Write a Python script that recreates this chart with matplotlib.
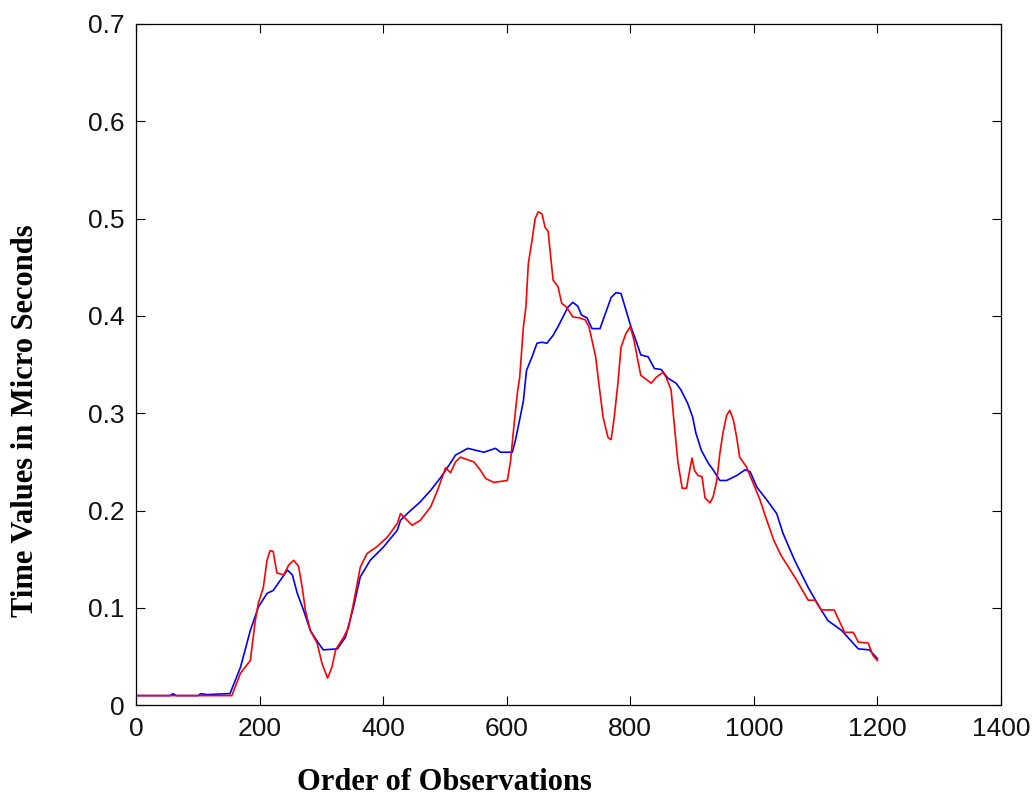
import matplotlib
matplotlib.use("Agg")
import matplotlib.pyplot as plt

# Observation order (x) and timing values (y) for the two traces
red_x = [0, 155, 169, 185, 193, 198, 206, 212, 217, 222, 228, 239, 247, 255, 263,
         269, 274, 282, 293, 301, 310, 317, 323, 336, 344, 352, 363, 374, 390, 407,
         423, 428, 447, 460, 477, 488, 501, 509, 517, 525, 547, 558, 566, 579, 601,
         606, 611, 617, 621, 627, 631, 635, 641, 646, 651, 657, 662, 667, 670, 675,
         683, 689, 697, 707, 718, 727, 733, 738, 744, 749, 756, 764, 769, 774, 780,
         785, 793, 800, 806, 812, 817, 834, 842, 853, 858, 866, 871, 877, 884, 891,
         896, 900, 904, 910, 916, 921, 929, 934, 940, 945, 950, 956, 961, 967, 972,
         977, 988, 999, 1010, 1021, 1032, 1044, 1066, 1088, 1099, 1109, 1130, 1138,
         1147, 1161, 1169, 1185, 1193, 1200]
red_y = [0.010, 0.010, 0.033, 0.046, 0.087, 0.105, 0.121, 0.149, 0.159, 0.158, 0.136,
         0.134, 0.144, 0.149, 0.143, 0.121, 0.098, 0.077, 0.064, 0.043, 0.028, 0.039,
         0.057, 0.070, 0.080, 0.105, 0.142, 0.156, 0.163, 0.173, 0.187, 0.197, 0.185,
         0.190, 0.204, 0.221, 0.244, 0.239, 0.250, 0.255, 0.250, 0.241, 0.233, 0.229,
         0.231, 0.250, 0.283, 0.320, 0.337, 0.389, 0.409, 0.454, 0.478, 0.500, 0.507,
         0.505, 0.491, 0.487, 0.468, 0.437, 0.430, 0.413, 0.409, 0.399, 0.398, 0.396,
         0.389, 0.375, 0.358, 0.331, 0.296, 0.275, 0.273, 0.296, 0.331, 0.368, 0.382,
         0.389, 0.375, 0.355, 0.339, 0.331, 0.337, 0.342, 0.337, 0.324, 0.290, 0.250,
         0.223, 0.223, 0.241, 0.254, 0.241, 0.236, 0.235, 0.213, 0.208, 0.214, 0.231,
         0.259, 0.280, 0.298, 0.303, 0.293, 0.276, 0.255, 0.245, 0.228, 0.211, 0.190,
         0.170, 0.154, 0.132, 0.108, 0.108, 0.098, 0.098, 0.087, 0.075, 0.075, 0.065,
         0.064, 0.051, 0.046]

blue_x = [0, 55, 60, 65, 100, 105, 115, 150, 152, 169, 185, 198, 212, 222, 233, 245,
          253, 261, 271, 282, 293, 303, 326, 339, 352, 363, 379, 401, 423, 428, 439,
          460, 477, 493, 509, 517, 537, 563, 582, 590, 609, 614, 623, 627, 632, 641,
          649, 657, 665, 675, 683, 691, 699, 707, 715, 721, 730, 738, 751, 760, 769,
          777, 785, 793, 801, 809, 817, 829, 839, 850, 861, 874, 882, 893, 901, 906,
          915, 926, 934, 945, 956, 972, 986, 994, 1005, 1021, 1037, 1047, 1066, 1088,
          1109, 1120, 1142, 1169, 1187, 1200]
blue_y = [0.010, 0.010, 0.012, 0.010, 0.010, 0.012, 0.011, 0.012, 0.012, 0.039, 0.077,
          0.101, 0.115, 0.118, 0.128, 0.139, 0.134, 0.115, 0.098, 0.077, 0.066, 0.057,
          0.058, 0.070, 0.101, 0.132, 0.149, 0.163, 0.180, 0.190, 0.197, 0.209, 0.221,
          0.234, 0.249, 0.257, 0.264, 0.260, 0.264, 0.260, 0.260, 0.272, 0.300, 0.313,
          0.344, 0.358, 0.372, 0.373, 0.372, 0.380, 0.389, 0.399, 0.409, 0.414, 0.410,
          0.401, 0.398, 0.387, 0.387, 0.403, 0.419, 0.424, 0.423, 0.406, 0.389, 0.375,
          0.360, 0.358, 0.346, 0.345, 0.336, 0.331, 0.324, 0.310, 0.296, 0.280, 0.262,
          0.249, 0.242, 0.231, 0.231, 0.236, 0.242, 0.240, 0.224, 0.211, 0.197, 0.177,
          0.149, 0.121, 0.098, 0.087, 0.077, 0.058, 0.057, 0.048]

x_ticks = [0, 200, 400, 600, 800, 1000, 1200, 1400]
y_ticks = [0, 0.1, 0.2, 0.3, 0.4, 0.5, 0.6, 0.7]
y_tick_labels = ["0", "0.1", "0.2", "0.3", "0.4", "0.5", "0.6", "0.7"]

fig = plt.figure(figsize=(10.33, 7.97), dpi=100)
ax = fig.add_axes([0.1317, 0.115, 0.8373, 0.855])

ax.plot(blue_x, blue_y, color="#0000ff", lw=1.2)
ax.plot(red_x, red_y, color="#ff0000", lw=1.2)

ax.set_xlim(0, 1400)
ax.set_ylim(0, 0.7)
ax.set_xticks(x_ticks)
ax.set_yticks(y_ticks)
ax.set_yticklabels(y_tick_labels)

for lab in ax.get_xticklabels() + ax.get_yticklabels():
    lab.set_fontfamily("Liberation Sans")
    lab.set_fontsize(19)
    lab.set_color("#111111")

ax.tick_params(direction="in", length=6.5, width=0.8, top=True, right=True,
               color="black")
ax.tick_params(axis="y", pad=8.5)
ax.tick_params(axis="x", pad=8.5)
for sp in ax.spines.values():
    sp.set_linewidth(0.9)
    sp.set_color("black")

label_font = dict(family="Liberation Serif", weight="bold", size=22, color="black")
fig.text(444 / 1033, 1 - 790 / 797, "Order of Observations", ha="center",
         va="baseline", **label_font)
fig.text(26 / 1033, 1 - 421 / 797, "Time Values in Micro Seconds", ha="center",
         va="center", rotation=90, **label_font)

fig.savefig("out.png", dpi=100)
